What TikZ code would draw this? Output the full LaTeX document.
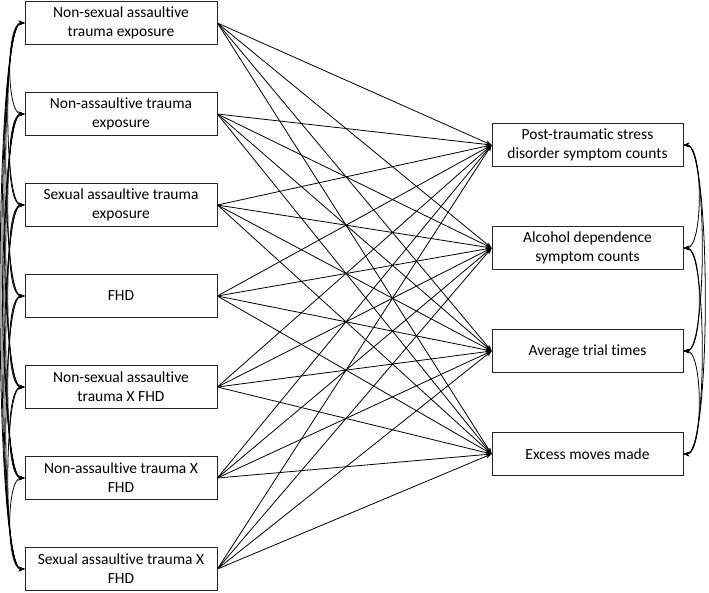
\documentclass[tikz,border=0pt]{standalone}
\usepackage{fontspec}
\setmainfont{Carlito}[Ligatures=NoCommon]
\usetikzlibrary{arrows.meta}

\tikzset{
    varbox/.style={draw=black!85, line width=0.8pt, minimum width=192pt, minimum height=43pt,
        align=center, inner sep=2pt, font=\fontsize{15.5}{19}\selectfont},
    path/.style={line width=0.8pt, -{Stealth[length=6pt,width=4.5pt]}},
    covar/.style={line width=0.8pt, {Stealth[length=6pt,width=4.5pt]}-{Stealth[length=6pt,width=4.5pt]}}
}

\begin{document}
\begin{tikzpicture}[x=1pt,y=-1pt]
    \useasboundingbox (0,0) rectangle (709,592);

    % predictors
    \foreach \i/\txt in {1/{Non-sexual assaultive\\trauma exposure},
                         2/{Non-assaultive trauma\\exposure},
                         3/{Sexual assaultive trauma\\exposure},
                         4/{FHD},
                         5/{Non-sexual assaultive\\trauma X FHD},
                         6/{Non-assaultive trauma X\\FHD},
                         7/{Sexual assaultive trauma X\\FHD}}
    {
        \node[varbox] (pred\i) at (121,{23+91*(\i-1)}) {\txt};
    }

    % outcomes
    \foreach \j/\txt in {1/{Post-traumatic stress\\disorder symptom counts},
                         2/{Alcohol dependence\\symptom counts},
                         3/{Average trial times},
                         4/{Excess moves made}}
    {
        \node[varbox, minimum width=191pt] (out\j) at (587.5,{145+103*(\j-1)}) {\txt};
    }

    % regressions
    \foreach \i in {1,...,7}
    {
        \foreach \j in {1,...,4}
        {
            \draw[path] (pred\i.east) -- (out\j.west);
        }
    }

    % covariances among predictors
    \foreach \i in {1,...,6}
    {
        \pgfmathtruncatemacro\nxt{\i+1}
        \foreach \j in {\nxt,...,7}
        {
            \pgfmathsetmacro\bulge{16+2.6*(\j-\i)}
            \draw[covar] (pred\i.west) .. controls +(-\bulge,0) and +(-\bulge,0) .. (pred\j.west);
        }
    }

    % covariances among outcomes
    \foreach \i in {1,...,3}
    {
        \pgfmathtruncatemacro\nxt{\i+1}
        \foreach \j in {\nxt,...,4}
        {
            \pgfmathsetmacro\bulge{16+4*(\j-\i)}
            \draw[covar] (out\i.east) .. controls +(\bulge,0) and +(\bulge,0) .. (out\j.east);
        }
    }
\end{tikzpicture}
\end{document}
